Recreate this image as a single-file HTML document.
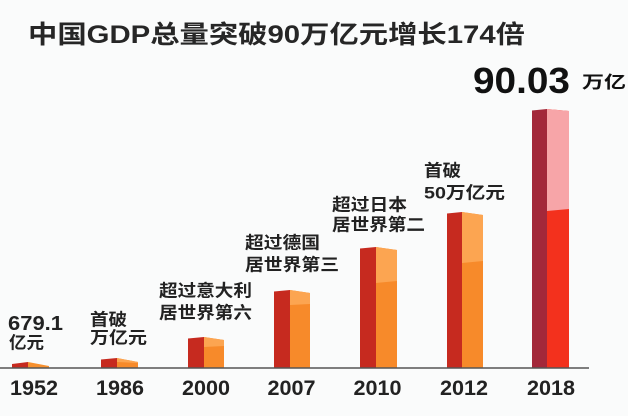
<!DOCTYPE html>
<html><head><meta charset="utf-8"><style>
html,body{margin:0;padding:0;background:#fafbfb;}
svg{display:block;}
text{font-family:"Liberation Sans","Noto Sans CJK SC",sans-serif;}
</style></head><body>
<svg width="628" height="416" viewBox="0 0 628 416" xmlns="http://www.w3.org/2000/svg">
<rect width="628" height="416" fill="#fafbfb"/>
<text x="28" y="43" font-size="25" font-weight="bold" fill="#262626" textLength="497" lengthAdjust="spacingAndGlyphs">中国GDP总量突破90万亿元增长174倍</text>
<text x="473" y="93" font-size="36" font-weight="900" fill="#111" textLength="97" lengthAdjust="spacingAndGlyphs">90.03</text>
<text x="582" y="88" font-size="17" font-weight="bold" fill="#111" textLength="44" lengthAdjust="spacingAndGlyphs">万亿</text>

<!-- bars -->
<g>
<!-- 1952 -->
<polygon points="12,364 28,362 28,368 12,368" fill="#c62a1f"/>
<polygon points="28,362 49,366 49,368 28,368" fill="#f7902e"/>
<!-- 1986 -->
<polygon points="101,359.5 117,358 117,368 101,368" fill="#c62a1f"/>
<polygon points="117,358 138,362 138,368 117,368" fill="#f78a2a"/>
<polygon points="117,358 138,362 138,363 117,362" fill="#fca551"/>
<!-- 2000 -->
<polygon points="188,338.5 204,337 204,368 188,368" fill="#c62a1f"/>
<polygon points="204,337 224,340 224,368 204,368" fill="#f78a2a"/>
<polygon points="204,337 224,340 224,346 204,347" fill="#fca551"/>
<!-- 2007 -->
<polygon points="274,291.5 290,290 290,368 274,368" fill="#c62a1f"/>
<polygon points="290,290 310,293 310,368 290,368" fill="#f78a2a"/>
<polygon points="290,290 310,293 310,304 290,305" fill="#fca551"/>
<!-- 2010 -->
<polygon points="360,248.5 376,247 376,368 360,368" fill="#c62a1f"/>
<polygon points="376,247 397,250 397,368 376,368" fill="#f78a2a"/>
<polygon points="376,247 397,250 397,281 376,283" fill="#fca551"/>
<!-- 2012 -->
<polygon points="447,213.5 462,212 462,368 447,368" fill="#c62a1f"/>
<polygon points="462,212 483,215 483,368 462,368" fill="#f78a2a"/>
<polygon points="462,212 483,215 483,261 462,263" fill="#fca551"/>
<!-- 2018 -->
<polygon points="532,110.5 547,109 547,368 532,368" fill="#a3283a"/>
<polygon points="547,109 569,111 569,368 547,368" fill="#f3311d"/>
<polygon points="547,109 569,111 569,209 547,211" fill="#f7a5a8"/>
</g>

<line x1="0" y1="368" x2="589" y2="368" stroke="#555" stroke-width="1.6"/>

<!-- year labels -->
<g font-size="21" font-weight="bold" fill="#222" text-anchor="middle">
<text x="34" y="395" textLength="48" lengthAdjust="spacingAndGlyphs">1952</text>
<text x="120" y="395" textLength="48" lengthAdjust="spacingAndGlyphs">1986</text>
<text x="206" y="395" textLength="48" lengthAdjust="spacingAndGlyphs">2000</text>
<text x="291.5" y="395" textLength="48" lengthAdjust="spacingAndGlyphs">2007</text>
<text x="377.5" y="395" textLength="48" lengthAdjust="spacingAndGlyphs">2010</text>
<text x="464" y="395" textLength="48" lengthAdjust="spacingAndGlyphs">2012</text>
<text x="551" y="395" textLength="48" lengthAdjust="spacingAndGlyphs">2018</text>
</g>

<!-- annotations -->
<g font-size="17" font-weight="bold" fill="#222">
<text x="8" y="330" font-size="20" textLength="55" lengthAdjust="spacingAndGlyphs">679.1</text>
<text x="9" y="348.5" textLength="35" lengthAdjust="spacingAndGlyphs">亿元</text>

<text x="90" y="325.5" textLength="37" lengthAdjust="spacingAndGlyphs">首破</text>
<text x="90" y="343.5" textLength="57" lengthAdjust="spacingAndGlyphs">万亿元</text>

<text x="159" y="296.5" textLength="93" lengthAdjust="spacingAndGlyphs">超过意大利</text>
<text x="159" y="318.5" textLength="93" lengthAdjust="spacingAndGlyphs">居世界第六</text>

<text x="245" y="248.5" textLength="75" lengthAdjust="spacingAndGlyphs">超过德国</text>
<text x="245" y="270.5" textLength="94" lengthAdjust="spacingAndGlyphs">居世界第三</text>

<text x="332" y="210.5" textLength="75" lengthAdjust="spacingAndGlyphs">超过日本</text>
<text x="332" y="230.5" textLength="93" lengthAdjust="spacingAndGlyphs">居世界第二</text>

<text x="424" y="176.5" textLength="37" lengthAdjust="spacingAndGlyphs">首破</text>
<text x="424" y="198.5" textLength="81" lengthAdjust="spacingAndGlyphs">50万亿元</text>
</g>
</svg>
</body></html>
